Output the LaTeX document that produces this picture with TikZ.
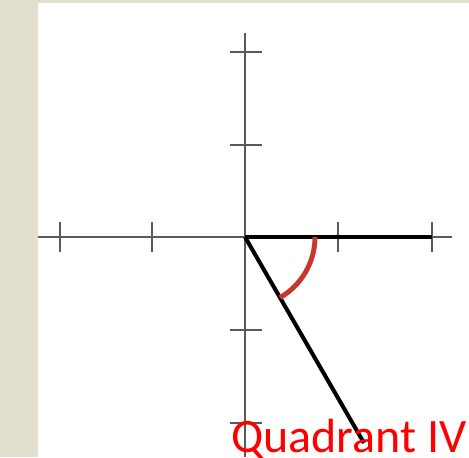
\documentclass[tikz,border=0pt]{standalone}
\usepackage{fontspec}
\setmainfont{Carlito}
\usepackage{xcolor}
\usetikzlibrary{positioning,calc}

\definecolor{slidebeige}{HTML}{E3DFCE}
\definecolor{anglered}{HTML}{C8372D}
\definecolor{axisgray}{HTML}{5A5A5A}

\begin{document}
\begin{tikzpicture}[x=0.02cm, y=-0.02cm,
  axis/.style={draw=axisgray, line width=1.1pt},
  tickmark/.style={draw=axisgray, line width=1.1pt},
  side/.style={draw=black, line width=2.3pt},
  anglearc/.style={draw=anglered, line width=2.8pt},
  every node/.style={font=\fontsize{27.3}{30}\selectfont}]
  % background
  \fill[slidebeige] (0,0) rectangle (469,457);
  \fill[white] (38,3) rectangle (469,457);
  \useasboundingbox (0,0) rectangle (469,457);
  % axes
  \coordinate (O) at (245,237);
  \draw[axis] (38,237) -- (452,237);
  \draw[axis] (245,33) -- (245,457);
  \foreach \x in {60,152,338,432}
    \draw[tickmark] (\x,222) -- (\x,252);
  \foreach \y in {52,145,330,423}
    \draw[tickmark] (230,\y) -- (262,\y);
  % angle
  \coordinate (initial) at (432,237);
  \coordinate (terminal) at ($(O)+(119,206)$);
  \draw[side] (O) -- (initial);
  \draw[side] (O) -- (terminal);
  \draw[anglearc] ($(O)+(70,0)$) arc[start angle=0, end angle=60, radius=70];
  \node[text=red, anchor=base east, inner sep=0pt] (quad) at (467,452) {Quadrant IV};
\end{tikzpicture}
\end{document}
